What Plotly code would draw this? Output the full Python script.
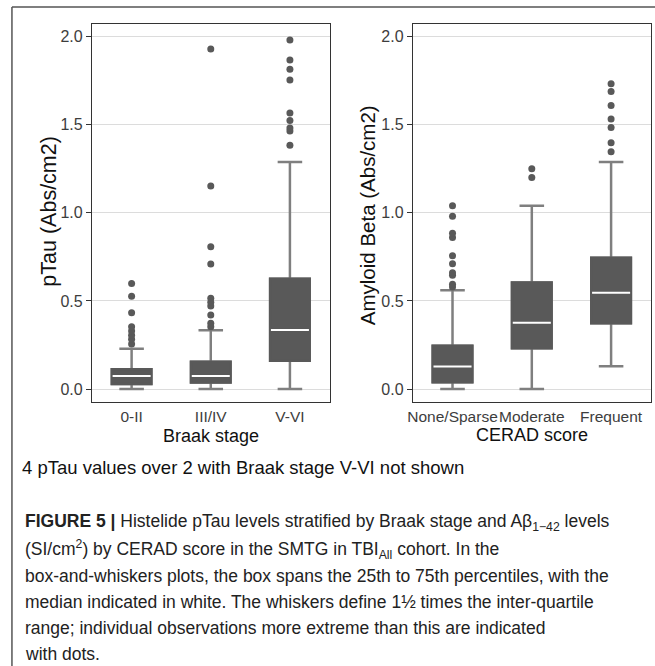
import plotly.graph_objects as go

# ---------------- data ----------------
braak_cats = ["0-II", "III/IV", "V-VI"]
braak_q1 = [0.028, 0.037, 0.161]
braak_median = [0.074, 0.074, 0.335]
braak_q3 = [0.112, 0.154, 0.626]
braak_lower = [0.0, 0.0, 0.0]
braak_upper = [0.228, 0.334, 1.288]
braak_outliers_0 = [0.255, 0.282, 0.305, 0.329, 0.354, 0.433, 0.526, 0.599]
braak_outliers_1 = [0.354, 0.373, 0.420, 0.471, 0.492, 0.515, 0.710, 0.808, 1.152, 1.930]
braak_outliers_2 = [1.383, 1.465, 1.482, 1.524, 1.567, 1.754, 1.815, 1.868, 1.981]

cerad_cats = ["None/Sparse", "Moderate", "Frequent"]
cerad_q1 = [0.038, 0.231, 0.373]
cerad_median = [0.128, 0.376, 0.547]
cerad_q3 = [0.246, 0.605, 0.745]
cerad_lower = [0.0, 0.0, 0.129]
cerad_upper = [0.561, 1.040, 1.289]
cerad_outliers_0 = [0.579, 0.595, 0.646, 0.660, 0.711, 0.757, 0.860, 0.884, 0.980, 1.040]
cerad_outliers_1 = [1.200, 1.251]
cerad_outliers_2 = [1.347, 1.398, 1.484, 1.533, 1.610, 1.689, 1.733]

y_ticks = [0.0, 0.5, 1.0, 1.5, 2.0]

# ---------------- style ----------------
W, H = 655, 666
FILL = "#595959"
WHISK = "#7f7f7f"
DOT = "#595959"
BORDER = "#333333"
GRID = "#dcdcdc"
TICKC = "#3d3d3d"
FONT = "Liberation Sans, Arial, sans-serif"
BOX_W = 0.5


def px_x(p):
    return p / W


def px_y(p):
    return 1 - p / H


fig = go.Figure()

panels = [
    dict(xa="x", ya="y", cats=braak_cats, q1=braak_q1, med=braak_median, q3=braak_q3,
         lo=braak_lower, hi=braak_upper,
         outs=[braak_outliers_0, braak_outliers_1, braak_outliers_2]),
    dict(xa="x2", ya="y2", cats=cerad_cats, q1=cerad_q1, med=cerad_median, q3=cerad_q3,
         lo=cerad_lower, hi=cerad_upper,
         outs=[cerad_outliers_0, cerad_outliers_1, cerad_outliers_2]),
]

for pnl in panels:
    pos = list(range(len(pnl["cats"])))
    # whiskers + box
    fig.add_trace(go.Box(
        x=pos, q1=pnl["q1"], median=pnl["med"], q3=pnl["q3"],
        lowerfence=pnl["lo"], upperfence=pnl["hi"],
        width=BOX_W, whiskerwidth=0.62, boxpoints=False,
        fillcolor=FILL, line=dict(color=WHISK, width=2.5),
        xaxis=pnl["xa"], yaxis=pnl["ya"], showlegend=False, hoverinfo="skip"))
    # box body overlay (hides grey outline)
    fig.add_trace(go.Box(
        x=pos, q1=pnl["q1"], median=pnl["med"], q3=pnl["q3"],
        lowerfence=pnl["q1"], upperfence=pnl["q3"],
        width=BOX_W, whiskerwidth=0, boxpoints=False,
        fillcolor=FILL, line=dict(color=FILL, width=2.5),
        xaxis=pnl["xa"], yaxis=pnl["ya"], showlegend=False, hoverinfo="skip"))
    # white medians
    mx, my = [], []
    for p, m in zip(pos, pnl["med"]):
        mx += [p - BOX_W / 2 + 0.01, p + BOX_W / 2 - 0.01, None]
        my += [m, m, None]
    fig.add_trace(go.Scatter(x=mx, y=my, mode="lines", line=dict(color="white", width=2),
                             xaxis=pnl["xa"], yaxis=pnl["ya"], showlegend=False, hoverinfo="skip"))
    # outliers
    ox, oy = [], []
    for p, outs in zip(pos, pnl["outs"]):
        ox += [p] * len(outs)
        oy += outs
    fig.add_trace(go.Scatter(x=ox, y=oy, mode="markers",
                             marker=dict(color=DOT, size=7, line=dict(width=0)),
                             xaxis=pnl["xa"], yaxis=pnl["ya"], showlegend=False, hoverinfo="skip"))

y_dom = [px_y(402), px_y(24)]
yrange = [-0.0738, 2.072]

xcommon = dict(range=[-0.5, 2.5], tickvals=[0, 1, 2], tickangle=0, showgrid=False, zeroline=False,
               showline=True, mirror=True, linecolor=BORDER, linewidth=1.2, ticks="",
               tickfont=dict(family=FONT, size=15.5, color=TICKC), fixedrange=True)
ycommon = dict(range=yrange, tickvals=y_ticks, tickformat=".1f", showgrid=True, gridcolor=GRID,
               gridwidth=1, zeroline=False, showline=True, mirror=True, linecolor=BORDER,
               linewidth=1.2, ticks="outside", ticklen=5, tickcolor=BORDER, tickwidth=1,
               tickfont=dict(family=FONT, size=16, color=TICKC), fixedrange=True)

fig.update_layout(
    width=W, height=H, margin=dict(l=0, r=0, t=0, b=0),
    paper_bgcolor="white", plot_bgcolor="white", boxmode="overlay",
    xaxis=dict(domain=[px_x(87.7), px_x(327)], ticktext=braak_cats, anchor="y", **xcommon),
    yaxis=dict(domain=y_dom, anchor="x", **ycommon),
    xaxis2=dict(domain=[px_x(411), px_x(650.7)], ticktext=cerad_cats, anchor="y2", **xcommon),
    yaxis2=dict(domain=y_dom, anchor="x2", **ycommon),
)

# axis titles
ann = []
ann.append(dict(text="pTau (Abs/cm2)", x=px_x(44), y=px_y(211), xref="paper", yref="paper",
                textangle=-90, showarrow=False, xanchor="center", yanchor="middle",
                font=dict(family=FONT, size=21.5, color="#111111")))
ann.append(dict(text="Amyloid Beta (Abs/cm2)", x=px_x(365), y=px_y(215), xref="paper", yref="paper",
                textangle=-90, showarrow=False, xanchor="center", yanchor="middle",
                font=dict(family=FONT, size=20.5, color="#111111")))
ann.append(dict(text="Braak stage", x=px_x(207.4), y=px_y(436), xref="paper", yref="paper",
                showarrow=False, xanchor="center", yanchor="middle",
                font=dict(family=FONT, size=18, color="#111111")))
ann.append(dict(text="CERAD score", x=px_x(530.9), y=px_y(435), xref="paper", yref="paper",
                showarrow=False, xanchor="center", yanchor="middle",
                font=dict(family=FONT, size=18, color="#111111")))

# notes and caption
ann.append(dict(text="4 pTau values over 2 with Braak stage V-VI not shown", x=px_x(15),
                y=px_y(467), xref="paper", yref="paper", showarrow=False,
                xanchor="left", yanchor="middle", font=dict(family=FONT, size=18.5, color="#111111")))

caption_lines = [
    "<b>FIGURE 5 |</b> Histelide pTau levels stratified by Braak stage and Aβ<sub>1−42</sub> levels",
    "(SI/cm<sup>2</sup>) by CERAD score in the SMTG in TBI<sub>All</sub> cohort. In the",
    "box-and-whiskers plots, the box spans the 25th to 75th percentiles, with the",
    "median indicated in white. The whiskers define 1½ times the inter-quartile",
    "range; individual observations more extreme than this are indicated",
    "with dots.",
]
caption_y = [522.7, 549.3, 576, 601.7, 628.3, 654]
for t, yy in zip(caption_lines, caption_y):
    ann.append(dict(text=t, x=px_x(18), y=px_y(yy), xref="paper", yref="paper", showarrow=False,
                    xanchor="left", yanchor="middle",
                    font=dict(family=FONT, size=17.5, color="#222222")))

fig.update_layout(annotations=ann)

# figure frame
fig.add_shape(type="line", xref="paper", yref="paper", x0=px_x(7), x1=px_x(7), y0=px_y(7), y1=0,
              line=dict(color="#555555", width=1.5))
fig.add_shape(type="line", xref="paper", yref="paper", x0=px_x(7), x1=1, y0=px_y(7), y1=px_y(7),
              line=dict(color="#555555", width=1.5))

fig.write_html("out.html")
